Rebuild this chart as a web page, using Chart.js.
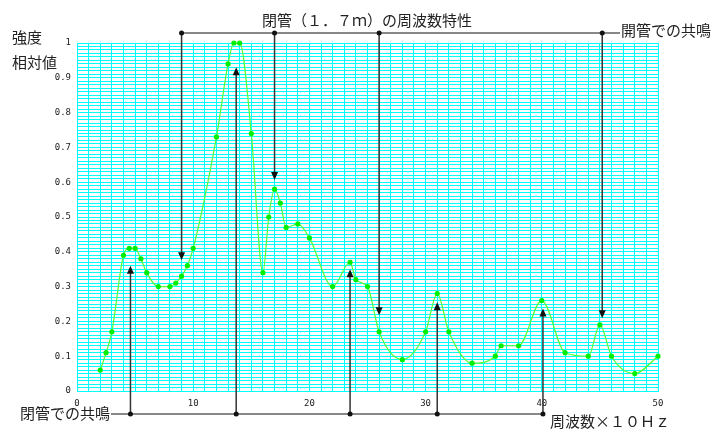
<!DOCTYPE html>
<html>
<head>
<meta charset="utf-8">
<script src="https://cdn.jsdelivr.net/npm/chart.js@4"></script>
<style>
  html, body { margin: 0; padding: 0; background: #fff; }
</style>
</head>
<body>
<canvas id="chart" width="713" height="430"></canvas>
<script>
// frequency (x10 Hz) and relative strength
const freqs = [2, 2.5, 3, 4, 4.5, 5, 5.5, 6, 7, 8, 8.5, 9, 9.5, 10, 12, 13, 13.5, 14, 15, 16, 16.5, 17, 17.5, 18, 19, 20,
    22, 23.5, 24, 25, 26, 28, 30, 31, 32, 34, 36, 36.5, 38, 40, 42, 44, 45, 46, 48, 50];
const strength = [0.06, 0.11, 0.17, 0.39, 0.41, 0.41, 0.38, 0.34, 0.30, 0.30, 0.31, 0.33, 0.36, 0.41, 0.73, 0.94, 1.0, 1.0, 0.74, 0.34, 0.50, 0.58, 0.54, 0.47, 0.48, 0.44,
    0.30, 0.37, 0.32, 0.30, 0.17, 0.09, 0.17, 0.28, 0.17, 0.08, 0.10, 0.13, 0.13, 0.26, 0.11, 0.10, 0.19, 0.10, 0.05, 0.10];

// resonance markers: x position and where the arrow tip ends
const closedResX = [4.6, 13.7, 23.5, 31.0, 40.1];
const closedResTip = [0.36, 0.93, 0.35, 0.255, 0.237];
const openResX = [9.0, 17.0, 26.0, 45.2];
const openResTip = [0.376, 0.606, 0.218, 0.209];

const xTicksLabeled = [0, 10, 20, 30, 40, 50];

const titleText = '閉管（１．７ｍ）の周波数特性';
const yTitle = ['強度', '相対値'];
const xTitle = '周波数×１０Ｈｚ';
const openLabel = '開管での共鳴';
const closedLabel = '閉管での共鳴';

const points = freqs.map((f, i) => ({ x: f, y: strength[i] }));

function arrowHead(ctx, x, y, dir) {
    // dir = 1 pointing down, -1 pointing up
    ctx.beginPath();
    ctx.moveTo(x, y);
    ctx.lineTo(x - 3.5, y - dir * 8);
    ctx.lineTo(x + 3.5, y - dir * 8);
    ctx.closePath();
    ctx.fill();
}

function dot(ctx, x, y) {
    ctx.beginPath();
    ctx.arc(x, y, 2.5, 0, Math.PI * 2);
    ctx.fill();
}

const notes = {
    id: 'notes',
    afterDraw(chart) {
        const { ctx, chartArea } = chart;
        const xs = chart.scales.x;
        const ys = chart.scales.y;
        ctx.save();
        ctx.font = '15px "Noto Sans CJK JP"';
        ctx.fillStyle = '#222';
        ctx.textBaseline = 'middle';
        ctx.textAlign = 'left';

        ctx.fillText(titleText, 262, 20);
        ctx.fillText(yTitle[0], 12, 37);
        ctx.fillText(yTitle[1], 12, 62);
        ctx.fillText(xTitle, 550, 421);

        // open pipe resonances, from the top
        const topY = chartArea.top - 10;
        const openTextX = 621;
        ctx.fillText(openLabel, openTextX, 30);
        ctx.strokeStyle = '#888';
        ctx.lineWidth = 2;
        ctx.beginPath();
        ctx.moveTo(xs.getPixelForValue(openResX[0]), topY);
        ctx.lineTo(openTextX - 1, topY);
        ctx.stroke();

        // closed pipe resonances, from the bottom
        const botY = chartArea.bottom + 23;
        ctx.fillText(closedLabel, 20, 413);
        const closedEnd = 20 + ctx.measureText(closedLabel).width + 1;
        ctx.beginPath();
        ctx.moveTo(closedEnd, botY);
        ctx.lineTo(xs.getPixelForValue(closedResX[closedResX.length - 1]), botY);
        ctx.stroke();

        ctx.strokeStyle = '#333';
        ctx.fillStyle = '#111';
        ctx.lineWidth = 1.5;
        openResX.forEach((v, i) => {
            const px = xs.getPixelForValue(v);
            const tip = ys.getPixelForValue(openResTip[i]);
            ctx.beginPath();
            ctx.moveTo(px, topY);
            ctx.lineTo(px, tip - 6);
            ctx.stroke();
            arrowHead(ctx, px, tip, 1);
            dot(ctx, px, topY);
        });
        closedResX.forEach((v, i) => {
            const px = xs.getPixelForValue(v);
            const tip = ys.getPixelForValue(closedResTip[i]);
            ctx.beginPath();
            ctx.moveTo(px, botY);
            ctx.lineTo(px, tip + 6);
            ctx.stroke();
            arrowHead(ctx, px, tip, -1);
            dot(ctx, px, botY);
        });
        ctx.restore();
    }
};

const tickFont = { family: '"DejaVu Sans Mono"', size: 9 };

new Chart(document.getElementById('chart'), {
    type: 'line',
    data: {
        datasets: [{
            data: points,
            borderColor: '#55ff33',
            borderWidth: 1.2,
            pointBackgroundColor: '#00ee00',
            pointBorderColor: '#00ee00',
            pointRadius: 2,
            cubicInterpolationMode: 'monotone',
            clip: false
        }]
    },
    options: {
        responsive: false,
        animation: false,
        layout: { padding: { left: 0, top: 43, right: 55, bottom: 0 } },
        plugins: { legend: { display: false }, tooltip: { enabled: false } },
        scales: {
            x: {
                type: 'linear',
                min: 0,
                max: 50,
                afterFit: (scale) => { scale.height = 39; },
                grid: { color: '#00ffff', lineWidth: 1, drawTicks: false },
                border: { color: '#00ffff' },
                ticks: {
                    stepSize: 1,
                    autoSkip: false,
                    maxRotation: 0,
                    padding: 7,
                    font: tickFont,
                    color: '#222',
                    callback: (v) => xTicksLabeled.includes(v) ? String(v) : ''
                }
            },
            y: {
                min: 0,
                max: 1,
                afterFit: (scale) => { scale.width = 77; },
                grid: { color: '#00ffff', lineWidth: 1, drawTicks: false },
                border: { color: '#00ffff' },
                ticks: {
                    stepSize: 0.01,
                    autoSkip: false,
                    padding: 6,
                    font: tickFont,
                    color: '#222',
                    callback: (v) => {
                        const t = Math.round(v * 100);
                        if (t % 10 !== 0) return '';
                        if (t === 0) return '0';
                        if (t === 100) return '1';
                        return (t / 100).toFixed(1);
                    }
                }
            }
        }
    },
    plugins: [notes]
});
</script>
</body>
</html>
